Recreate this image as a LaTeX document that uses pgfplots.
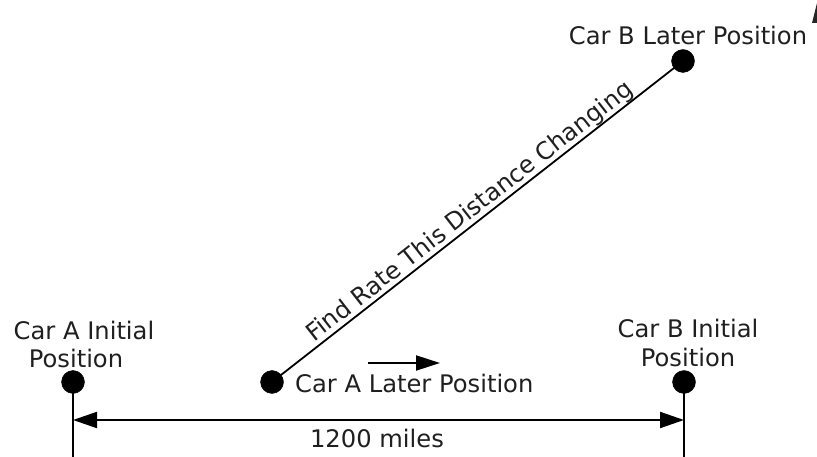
\documentclass[border=0pt]{standalone}
\usepackage{fontspec}
\setmainfont{DejaVu Sans}
\usepackage{pgfplots}
\pgfplotsset{compat=1.18}
\usetikzlibrary{arrows.meta}
\newcommand{\lblfont}{\fontsize{24.2bp}{29bp}\selectfont}
\tikzset{lbl/.style={font=\lblfont, text=black!88, inner sep=0pt}}
\begin{document}
\begin{tikzpicture}
\begin{axis}[
  width=817bp, height=457bp, scale only axis,
  xmin=0, xmax=817, ymin=0, ymax=457,
  axis lines=none, clip=true,
]
\addplot[black, line width=2bp] coordinates {(73,75) (73,0)};
\addplot[black, line width=2bp] coordinates {(684,75) (684,0)};
\addplot[black, line width=1.8bp] coordinates {(272,75) (683,396)};
\addplot[black, line width=2bp, {Triangle[length=24bp,width=16bp]}-{Triangle[length=24bp,width=16bp]}] coordinates {(73,37) (684,37)};
\addplot[black, line width=2bp, -{Triangle[length=24bp,width=15bp]}] coordinates {(368,94) (440,94)};
\addplot[fill=black!85, draw=none] coordinates {(812,434) (817,454) (817,434) (812,434)};
\addplot[only marks, mark=*, mark size=11.5bp, black] coordinates {(73,75) (272,75) (684,75) (683,396)};
\node[lbl, anchor=center] at (84,127) {Car A Initial};
\node[lbl, anchor=center] at (76,99) {Position};
\node[lbl, anchor=center] at (688,129) {Car B Initial};
\node[lbl, anchor=center] at (688,100) {Position};
\node[lbl, anchor=west] at (295,74) {Car A Later Position};
\node[lbl, anchor=center] at (688,422) {Car B Later Position};
\node[lbl, anchor=center] at (377,19) {1200 miles};
\node[lbl, anchor=center, rotate=38] at (470,245) {Find Rate This Distance Changing};
\end{axis}
\pgfresetboundingbox
\useasboundingbox (current axis.south west) rectangle (current axis.north east);
\end{tikzpicture}
\end{document}
